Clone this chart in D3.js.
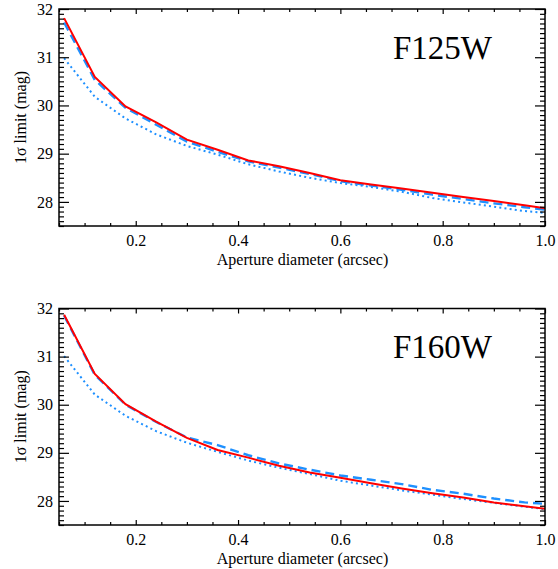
<!DOCTYPE html>
<html><head><meta charset="utf-8">
<script src="https://cdn.jsdelivr.net/npm/d3@7"></script>
<style>body{margin:0;background:#fff}svg{display:block}text{font-family:"Liberation Serif","Times New Roman",serif;fill:#000}</style>
</head><body><div id="chart"></div>
<script>
const aperture = [0.06,0.12,0.18,0.24,0.30,0.36,0.42,0.48,0.54,0.60,0.66,0.72,0.78,0.84,0.90,0.96,1.00];
const f125Solid  = [31.81,30.59,29.98,29.65,29.29,29.08,28.86,28.74,28.60,28.45,28.36,28.28,28.19,28.10,28.02,27.93,27.87];
const f125Dashed = [31.72,30.53,29.95,29.60,29.25,29.04,28.84,28.71,28.58,28.43,28.34,28.25,28.15,28.06,27.97,27.89,27.84];
const f125Dotted = [30.98,30.18,29.73,29.40,29.16,28.98,28.78,28.63,28.50,28.39,28.31,28.21,28.08,27.99,27.90,27.81,27.77];
const f160Solid  = [31.87,30.64,30.01,29.65,29.31,29.06,28.90,28.73,28.59,28.48,28.37,28.26,28.16,28.07,27.97,27.89,27.84];
const f160Dashed = [31.85,30.62,30.00,29.64,29.32,29.16,28.95,28.78,28.65,28.53,28.44,28.35,28.23,28.15,28.05,27.97,27.94];
const f160Dotted = [31.01,30.21,29.77,29.45,29.21,29.02,28.84,28.69,28.56,28.42,28.32,28.22,28.13,28.04,27.96,27.88,27.83];
const panelLabels = ["F125W","F160W"];
const xTicks = [0.2,0.4,0.6,0.8,1.0];
const yTicks = [28,29,30,31,32];
const xTitle = "Aperture diameter (arcsec)";
const yTitle = "1σ limit (mag)";

const W = 558, H = 569;
const svg = d3.select("#chart").append("svg").attr("width",W).attr("height",H);
const left = 59, right = 545;
const panels = [
  {top:9, bottom:226, label:panelLabels[0], solid:f125Solid, dashed:f125Dashed, dotted:f125Dotted},
  {top:308.5, bottom:525, label:panelLabels[1], solid:f160Solid, dashed:f160Dashed, dotted:f160Dotted}
];
const x = d3.scaleLinear().domain([0.05,1.0]).range([left,right]);
const xMinor = d3.range(0.05,1.0001,0.05).map(v=>+v.toFixed(2)).filter(v=>!xTicks.some(t=>Math.abs(t-v)<1e-6));
const yMinor = d3.range(27.5,32.0001,0.1).map(v=>+v.toFixed(1)).filter(v=>Math.abs(v-Math.round(v))>1e-6);

panels.forEach((p,i)=>{
  const y = d3.scaleLinear().domain([27.5,32]).range([p.bottom,p.top]);
  const g = svg.append("g");
  const cid = "clip"+i;
  svg.append("clipPath").attr("id",cid).append("rect")
    .attr("x",left).attr("y",p.top).attr("width",right-left).attr("height",p.bottom-p.top);
  const line = d3.line().x((d,j)=>x(aperture[j])).y(d=>y(d)).curve(d3.curveLinear);
  const lines = g.append("g").attr("clip-path",`url(#${cid})`);
  lines.append("path").datum(p.dotted).attr("d",line).attr("fill","none")
    .attr("stroke","#1e90ff").attr("stroke-width",2).attr("stroke-dasharray","2,3.2");
  lines.append("path").datum(p.dashed).attr("d",line).attr("fill","none")
    .attr("stroke","#1e90ff").attr("stroke-width",2.4).attr("stroke-dasharray","9,5");
  lines.append("path").datum(p.solid).attr("d",line).attr("fill","none")
    .attr("stroke","#ff0000").attr("stroke-width",2);

  // axes
  const axB = g.append("g").attr("transform",`translate(0,${p.bottom})`)
    .call(d3.axisBottom(x).tickValues(xTicks).tickSizeInner(-5).tickSizeOuter(0).tickFormat(d3.format(".1f")));
  axB.selectAll("text").attr("y",20).attr("dy",0);
  const axBm = g.append("g").attr("transform",`translate(0,${p.bottom})`)
    .call(d3.axisBottom(x).tickValues(xMinor).tickSize(-3).tickFormat(""));
  const axT = g.append("g").attr("transform",`translate(0,${p.top})`)
    .call(d3.axisTop(x).tickValues(xTicks).tickSize(-5).tickFormat(""));
  const axTm = g.append("g").attr("transform",`translate(0,${p.top})`)
    .call(d3.axisTop(x).tickValues(xMinor).tickSize(-3).tickFormat(""));
  const axL = g.append("g").attr("transform",`translate(${left},0)`)
    .call(d3.axisLeft(y).tickValues(yTicks).tickSizeInner(-10).tickSizeOuter(0).tickPadding(6).tickFormat(d3.format("d")));
  const axLm = g.append("g").attr("transform",`translate(${left},0)`)
    .call(d3.axisLeft(y).tickValues(yMinor).tickSize(-5).tickFormat(""));
  const axR = g.append("g").attr("transform",`translate(${right},0)`)
    .call(d3.axisRight(y).tickValues(yTicks).tickSize(-10).tickFormat(""));
  const axRm = g.append("g").attr("transform",`translate(${right},0)`)
    .call(d3.axisRight(y).tickValues(yMinor).tickSize(-5).tickFormat(""));
  [axB,axBm,axT,axTm,axL,axLm,axR,axRm].forEach(a=>{
    a.select(".domain").remove();
    a.selectAll("line").attr("stroke","#000").attr("stroke-width",1.2);
    a.selectAll("text").attr("font-size",16).attr("font-family","Liberation Serif");
  });
  g.append("rect").attr("x",left).attr("y",p.top).attr("width",right-left).attr("height",p.bottom-p.top)
    .attr("fill","none").attr("stroke","#000").attr("stroke-width",1.5);

  g.append("text").attr("x",left+(right-left)/2+0.5).attr("y",p.bottom+38.5)
    .attr("text-anchor","middle").attr("font-size",16).text(xTitle);
  g.append("text").attr("transform",`translate(26,${(p.top+p.bottom)/2}) rotate(-90)`)
    .attr("text-anchor","middle").attr("font-size",16).text(yTitle);
  g.append("text").attr("x",393).attr("y",p.top+49.5).attr("font-size",33).text(p.label);
});
</script></body></html>
